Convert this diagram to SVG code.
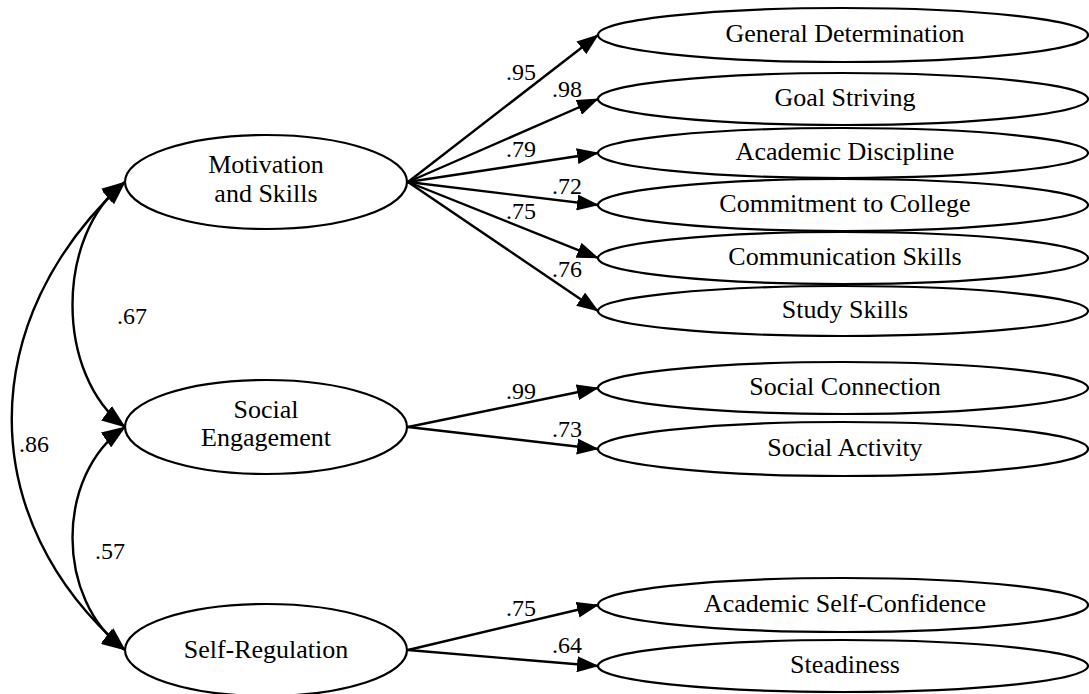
<svg xmlns="http://www.w3.org/2000/svg" width="1089" height="694" viewBox="0 0 1089 694">
<style>
.node ellipse{fill:none;stroke:#000;stroke-width:2.2}
.node text{font-family:"Liberation Serif","Times New Roman",serif;font-size:26px;fill:#000;text-anchor:middle}
.conn path{fill:none;stroke:#000;stroke-width:2.4}
.lbl{font-family:"Liberation Serif","Times New Roman",serif;font-size:24px;fill:#000}
</style>
<defs>
<marker id="ah" markerUnits="userSpaceOnUse" viewBox="0 0 22 16" markerWidth="22" markerHeight="16" refX="21" refY="8" orient="auto">
<path d="M0,0 L22,8 L0,16 z" fill="#000"/>
</marker>
<marker id="ah2" markerUnits="userSpaceOnUse" viewBox="0 0 24 18" markerWidth="24" markerHeight="18" refX="23" refY="9" orient="auto-start-reverse">
<path d="M0,0 L24,9 L0,18 z" fill="#000"/>
</marker>
</defs>
<rect x="0" y="0" width="1089" height="694" fill="#fff"/>

<g id="n-motivation" class="node">
<ellipse cx="266" cy="182" rx="141" ry="47"/>
<text x="266" y="173">Motivation</text>
<text x="266" y="202">and Skills</text>
</g>
<g id="n-social" class="node">
<ellipse cx="266" cy="427" rx="141" ry="47"/>
<text x="266" y="418">Social</text>
<text x="266" y="446">Engagement</text>
</g>
<g id="n-selfreg" class="node">
<ellipse cx="266" cy="650" rx="141" ry="46"/>
<text x="266" y="658">Self-Regulation</text>
</g>

<g id="n-gd" class="node"><ellipse cx="843" cy="35" rx="245" ry="27"/><text x="845" y="42">General Determination</text></g>
<g id="n-gs" class="node"><ellipse cx="843" cy="99" rx="245" ry="26"/><text x="845" y="106">Goal Striving</text></g>
<g id="n-ad" class="node"><ellipse cx="843" cy="153" rx="245" ry="25"/><text x="845" y="160">Academic Discipline</text></g>
<g id="n-cc" class="node"><ellipse cx="843" cy="205" rx="245" ry="26"/><text x="845" y="212">Commitment to College</text></g>
<g id="n-cs" class="node"><ellipse cx="843" cy="258" rx="245" ry="26"/><text x="845" y="265">Communication Skills</text></g>
<g id="n-ss" class="node"><ellipse cx="843" cy="311" rx="245" ry="25"/><text x="845" y="318">Study Skills</text></g>
<g id="n-sc" class="node"><ellipse cx="843" cy="388" rx="245" ry="26"/><text x="845" y="395">Social Connection</text></g>
<g id="n-sa" class="node"><ellipse cx="843" cy="449" rx="245" ry="27"/><text x="845" y="456">Social Activity</text></g>
<g id="n-asc" class="node"><ellipse cx="843" cy="605" rx="245" ry="27"/><text x="845" y="612">Academic Self-Confidence</text></g>
<g id="n-st" class="node"><ellipse cx="843" cy="666" rx="245" ry="26"/><text x="845" y="673">Steadiness</text></g>

<g id="connectors" class="conn">
<path d="M408,182 L598,35" marker-end="url(#ah)"/>
<path d="M408,182 L598,99" marker-end="url(#ah)"/>
<path d="M408,182 L598,153" marker-end="url(#ah)"/>
<path d="M408,182 L598,205" marker-end="url(#ah)"/>
<path d="M408,182 L598,258" marker-end="url(#ah)"/>
<path d="M408,182 L598,311" marker-end="url(#ah)"/>
<path d="M408,427 L598,388" marker-end="url(#ah)"/>
<path d="M408,427 L598,449" marker-end="url(#ah)"/>
<path d="M408,650 L598,605" marker-end="url(#ah)"/>
<path d="M408,650 L598,666" marker-end="url(#ah)"/>
<path d="M125,182 C55,235 55,375 125,427" marker-start="url(#ah2)" marker-end="url(#ah2)"/>
<path d="M125,427 C55,475 55,600 125,650" marker-start="url(#ah2)" marker-end="url(#ah2)"/>
<path d="M125,182 C-26,320 -26,520 125,650" marker-start="url(#ah2)" marker-end="url(#ah2)"/>
</g>

<g id="labels">
<text class="lbl" x="506" y="80">.95</text>
<text class="lbl" x="552" y="97">.98</text>
<text class="lbl" x="506" y="157">.79</text>
<text class="lbl" x="552" y="194">.72</text>
<text class="lbl" x="506" y="219">.75</text>
<text class="lbl" x="552" y="277">.76</text>
<text class="lbl" x="506" y="399">.99</text>
<text class="lbl" x="552" y="437">.73</text>
<text class="lbl" x="506" y="616">.75</text>
<text class="lbl" x="552" y="653">.64</text>
<text class="lbl" x="117" y="324">.67</text>
<text class="lbl" x="19" y="452">.86</text>
<text class="lbl" x="95" y="559">.57</text>
</g>
</svg>
